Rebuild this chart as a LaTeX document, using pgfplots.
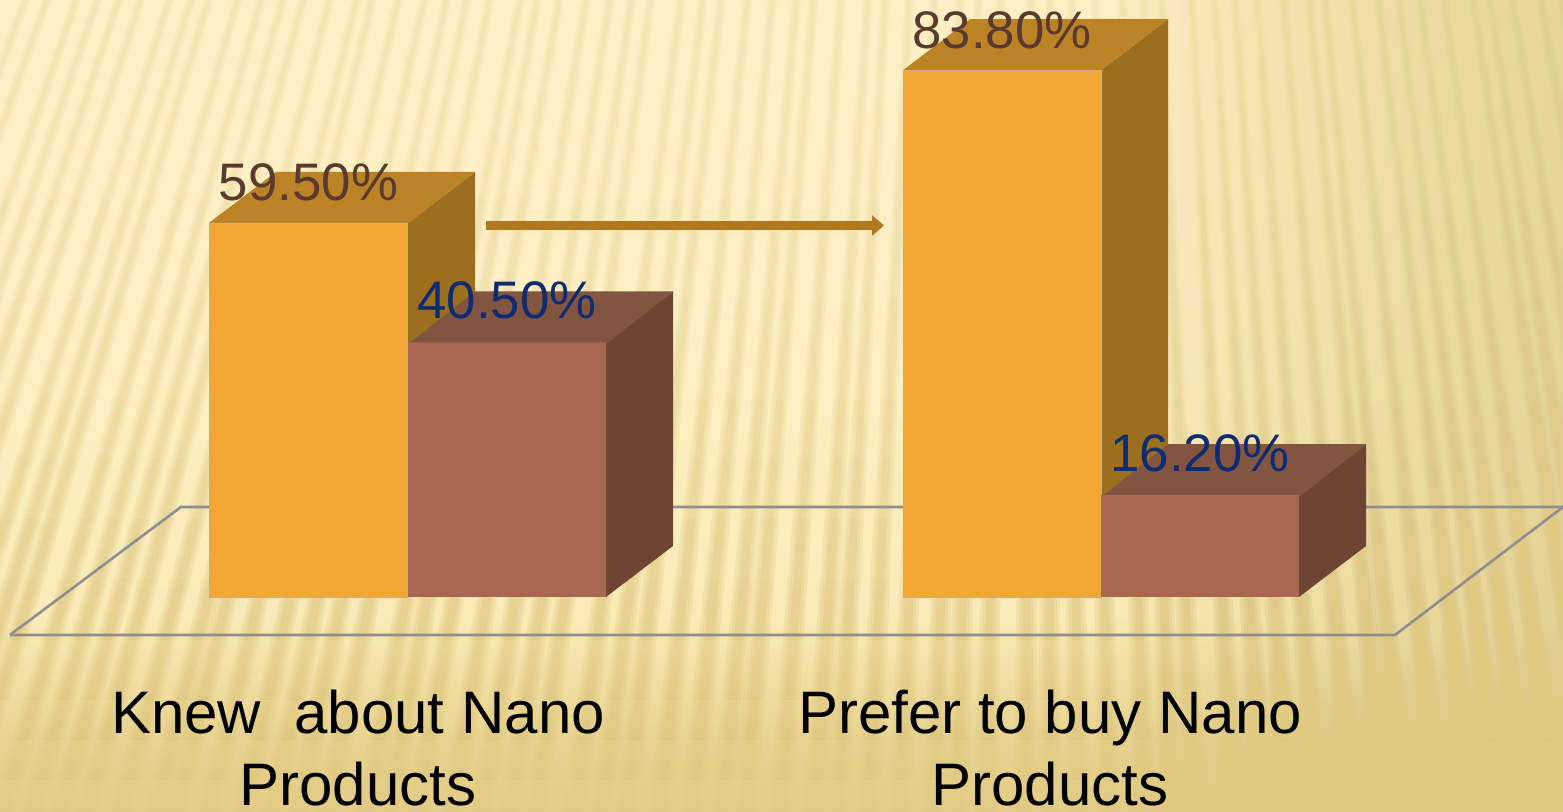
\documentclass[border=0pt]{standalone}
\usepackage{fontspec}
\setmainfont{Liberation Sans}
\usepackage{pgfplots}
\pgfplotsset{compat=1.18}
% background colours, from bottom (a) to top (g)
\definecolor{La}{HTML}{E3CD86}
\definecolor{Lb}{HTML}{E7D38F}
\definecolor{Lc}{HTML}{EFDD9F}
\definecolor{Ld}{HTML}{F9EBB8}
\definecolor{Le}{HTML}{FAEDBC}
\definecolor{Lf}{HTML}{FCF0C4}
\definecolor{Lg}{HTML}{FCF0C4}
\pgfdeclareverticalshading{bgL}{100bp}{color(0bp)=(La);color(25bp)=(La);color(29.5bp)=(Lb);color(32.5bp)=(Lc);color(37bp)=(Ld);color(44bp)=(Le);color(56.5bp)=(Lf);color(75bp)=(Lg);color(100bp)=(Lg)}
\definecolor{stripec}{HTML}{C8A850}
\definecolor{orF}{HTML}{F2A735}\definecolor{orT}{HTML}{BC8226}\definecolor{orS}{HTML}{9C6F1E}
\definecolor{brF}{HTML}{A96752}\definecolor{brT}{HTML}{825541}\definecolor{brS}{HTML}{6E4535}
\definecolor{edgec}{HTML}{C8B078}
\definecolor{floorc}{HTML}{8F8F8F}
\definecolor{arrowc}{HTML}{B27820}
\definecolor{lblA}{HTML}{5A3A2E}\definecolor{lblB}{HTML}{0F2C72}
\definecolor{rightc}{HTML}{E0CA80}
\begin{document}
\begin{tikzpicture}
% slide background: vertical gradient with fan of soft stripes
\begin{scope}[x=0.5pt,y=-0.5pt,shift={(0pt,406pt)}]
\clip (0,0) rectangle (1563,812);
\shade[shading=bgL] (0,0) rectangle (1563,812);
\foreach \ya/\yb/\op in {0/100/.045,100/200/.05,200/300/.065,300/400/.08,400/460/.09,460/520/.105,520/580/.12,580/640/.14,640/700/.11,700/740/.075,740/780/.04,780/812/.015}{
  \pgfmathsetmacro{\fa}{(\ya+2800)/3612}
  \pgfmathsetmacro{\fb}{(\yb+2800)/3612}
  \pgfmathsetmacro{\ga}{\ya/812}
  \pgfmathsetmacro{\gb}{\yb/812}
  \foreach \i in {-9,...,60}{
    \pgfmathsetmacro{\xc}{30*\i+4*sin(\i*97)+2*cos(\i*211)}
    \pgfmathsetmacro{\xa}{1050+(\xc-1050)*\fa}
    \pgfmathsetmacro{\xb}{1050+(\xc-1050)*\fb}
    \foreach \wt/\wb in {5/12,3.5/8.5,2/5}{
      \pgfmathsetmacro{\wa}{\wt+(\wb-\wt)*\ga}
      \pgfmathsetmacro{\wc}{\wt+(\wb-\wt)*\gb}
      \fill[stripec,fill opacity=\op] (\xa-\wa,\ya) -- (\xa+\wa,\ya) -- (\xb+\wc,\yb) -- (\xb-\wc,\yb) -- cycle;
    }
  }
}
\foreach \x in {1100,1120,...,1560}{
  \fill[rightc,fill opacity=0.03] (\x,0) rectangle (1563,812);
}
\end{scope}
\begin{axis}[
  at={(0pt,0pt)},anchor=south west,
  scale only axis,width=781.5pt,height=406pt,
  xmin=0,xmax=1563,ymin=-34.205,ymax=94.977,
  axis line style={draw=none},
  major tick length=0pt,
  ytick=\empty,
  xtick={358,1050},
  xticklabels={{Knew\ \ about Nano\\Products},{Prefer to buy Nano\\Products}},
  xticklabel style={align=center,font=\fontsize{30}{36}\selectfont,anchor=north,inner sep=0pt,yshift=61pt},
  /pgf/number format/assume math mode=true,
  nodes near coords={\pgfmathprintnumber[fixed,fixed zerofill,precision=2,assume math mode=true]{\pgfplotspointmeta}\%},
  every node near coord/.append style={font=\fontsize{26.4}{30}\selectfont,anchor=base,inner sep=0pt},
  clip=false,
]
% floor
\addplot[draw=floorc,line width=1.3pt,nodes near coords={},line join=miter] coordinates {(10,-6.045)(181,14.318)(1563,14.318)(1395,-6.045)(10,-6.045)};
% orange depth faces
\addplot[fill=orS,draw=none,nodes near coords={}] coordinates {(408,0)(475,8.114)(475,67.614)(408,59.5)(408,0)};
\addplot[fill=orT,draw=none,nodes near coords={}] coordinates {(209,59.5)(276,67.614)(475,67.614)(408,59.5)(209,59.5)};
\addplot[fill=orS,draw=none,nodes near coords={}] coordinates {(1101,0)(1168,8.114)(1168,91.914)(1101,83.8)(1101,0)};
\addplot[fill=orT,draw=none,nodes near coords={}] coordinates {(903,83.8)(970,91.914)(1168,91.914)(1101,83.8)(903,83.8)};
% brown depth faces
\addplot[fill=brS,draw=none,nodes near coords={}] coordinates {(606,0)(673,8.114)(673,48.614)(606,40.5)(606,0)};
\addplot[fill=brT,draw=none,nodes near coords={}] coordinates {(408,40.2)(475,48.614)(673,48.614)(606,40.2)(408,40.2)};
\addplot[fill=brS,draw=none,nodes near coords={}] coordinates {(1299,0)(1366,8.114)(1366,24.314)(1299,16.2)(1299,0)};
\addplot[fill=brT,draw=none,nodes near coords={}] coordinates {(1101,15.9)(1168,24.314)(1366,24.314)(1299,15.9)(1101,15.9)};
% front faces
\addplot[ybar,bar shift=0pt,bar width=198,fill=orF,draw=edgec,line width=0.3pt,
  every node near coord/.append style={text=lblA,yshift=11pt}] coordinates {(308.5,59.5)(1002,83.8)};
\addplot[ybar,bar shift=0pt,bar width=198,fill=brF,draw=none,
  every node near coord/.append style={text=lblB,yshift=11.8pt}] coordinates {(507,40.5)(1200,16.2)};
% arrow
\fill[arrowc] (axis cs:486,58.4) -- (axis cs:872,58.4) -- (axis cs:872,57.45) -- (axis cs:884,59.1) -- (axis cs:872,60.75) -- (axis cs:872,59.8) -- (axis cs:486,59.8) -- cycle;
\end{axis}
\pgfresetboundingbox
\path[use as bounding box] (0pt,0pt) rectangle (781.5pt,406pt);
\end{tikzpicture}
\end{document}
